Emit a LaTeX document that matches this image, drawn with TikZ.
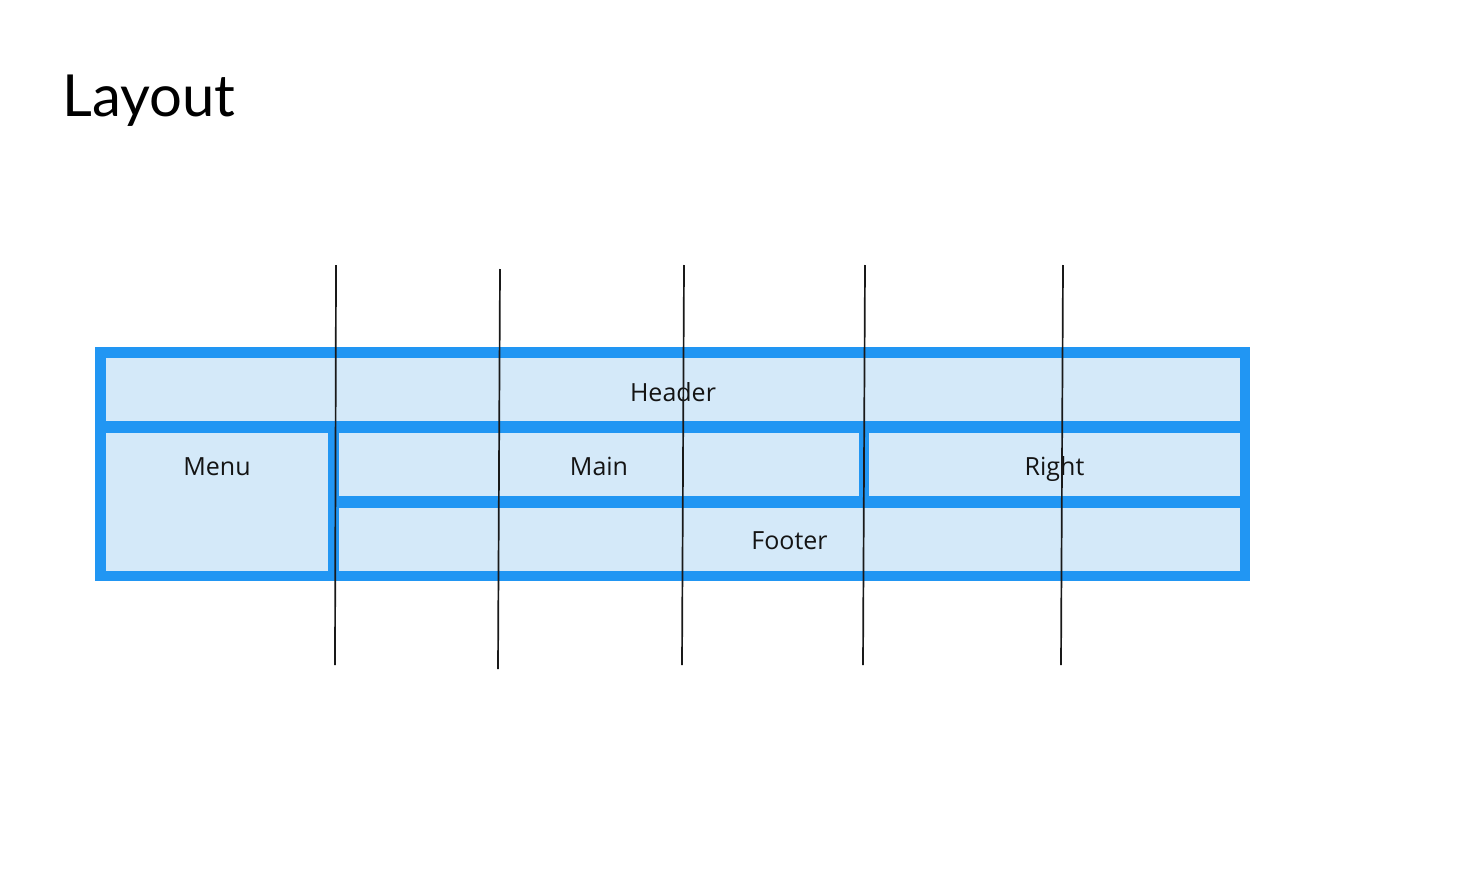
\documentclass[tikz,border=0pt]{standalone}
\usepackage{fontspec}
\setmainfont{Open Sans}
\newfontfamily\titlefont{Lato}
\definecolor{gridblue}{RGB}{33,150,243}
\definecolor{cellfill}{RGB}{212,233,249}
\definecolor{ink}{RGB}{20,20,20}
\tikzset{
  frame/.style={fill=gridblue, draw=none, inner sep=0pt, anchor=north west},
  cell/.style={fill=cellfill, draw=none, inner sep=0pt, anchor=north west},
  lbl/.style={anchor=base, inner sep=0pt, text=ink, font=\fontsize{25}{29}\selectfont},
  guide/.style={draw=black!90, line width=1.7pt}
}
\begin{document}
\begin{tikzpicture}[x=1pt,y=-1pt]
\useasboundingbox[fill=white] (0,0) rectangle (1464,886);
\node[anchor=base west, inner sep=0pt, text=black, font=\titlefont\fontsize{58}{66}\selectfont] (title) at (62,116) {Layout};
% frame and cells
\node[frame, minimum width=1155pt, minimum height=234pt] (frame) at (95,347) {};
\node[cell, minimum width=1134pt, minimum height=63pt] (header) at (106,358) {};
\node[cell, minimum width=222pt, minimum height=138pt] (menu) at (106,433) {};
\node[cell, minimum width=520pt, minimum height=63pt] (main) at (339,433) {};
\node[cell, minimum width=371pt, minimum height=63pt] (right) at (869,433) {};
\node[cell, minimum width=901pt, minimum height=63pt] (footer) at (339,508) {};
% labels
\node[lbl] (headerlbl) at (673,401.7) {Header};
\node[lbl] (menulbl) at (217,475.5) {Menu};
\node[lbl] (mainlbl) at (599,475.5) {Main};
\node[lbl] (rightlbl) at (1054.5,475.5) {Right};
\node[lbl] (footerlbl) at (789.5,549) {Footer};
% guide lines
\coordinate (g1t) at (336,265); \coordinate (g1b) at (335,665);
\coordinate (g2t) at (500,269); \coordinate (g2b) at (498,669);
\coordinate (g3t) at (684,265); \coordinate (g3b) at (682,665);
\coordinate (g4t) at (865,265); \coordinate (g4b) at (863,665);
\coordinate (g5t) at (1063,265); \coordinate (g5b) at (1061,665);
\draw[guide] (g1t) -- (g1b);
\draw[guide] (g2t) -- (g2b);
\draw[guide] (g3t) -- (g3b);
\draw[guide] (g4t) -- (g4b);
\draw[guide] (g5t) -- (g5b);
\end{tikzpicture}
\end{document}
